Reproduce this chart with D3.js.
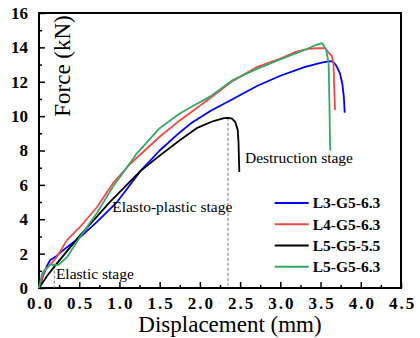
<!DOCTYPE html>
<html>
<head>
<meta charset="utf-8">
<script src="https://cdn.jsdelivr.net/npm/d3@7"></script>
<style>
  body { margin: 0; background: #fff; }
  svg { display: block; }
  svg text { font-family: "Liberation Serif", "Times New Roman", serif; }
</style>
</head>
<body>
<div id="chart"></div>
<script>
// series: [displacement (mm), force (kN)]
const seriesNames = ['L3-G5-6.3', 'L4-G5-6.3', 'L5-G5-5.5', 'L5-G5-6.3'];
const seriesColors = ['#0000ff', '#f24848', '#000000', '#35a866'];

const l3g5_63 = [[0,0],[0.05,0.7],[0.1,1.3],[0.14,1.63],[0.2,1.8],[0.3,2.2],[0.51,2.95],[0.72,3.85],[0.97,5.0],
  [1.1,5.8],[1.26,6.8],[1.5,8.0],[1.75,9.05],[1.88,9.55],[2.13,10.3],[2.41,11.0],[2.71,11.75],[3.0,12.35],
  [3.3,12.85],[3.5,13.1],[3.58,13.17],[3.62,13.2],[3.66,13.15],[3.7,12.9],[3.74,12.5],[3.77,11.9],[3.79,11.1],[3.8,10.2]];
const l4g5_63 = [[0,0],[0.07,1.05],[0.15,1.4],[0.22,1.8],[0.35,2.8],[0.51,3.55],[0.72,4.7],[0.92,6.1],[1.13,7.2],
  [1.29,7.9],[1.5,8.8],[1.75,9.75],[1.88,10.2],[2.13,11.05],[2.41,12.05],[2.71,12.85],[3.0,13.35],
  [3.2,13.75],[3.35,13.92],[3.45,13.95],[3.56,13.95],[3.6,13.7],[3.64,13.5],[3.66,13.1],[3.67,11.7],[3.68,10.35]];
const l5g5_55 = [[0,0],[0.1,0.7],[0.2,1.3],[0.5,3.0],[0.88,5.0],[1.26,6.8],[1.5,7.7],[1.75,8.6],
  [1.96,9.3],[2.16,9.7],[2.3,9.88],[2.35,9.9],[2.4,9.85],[2.44,9.65],[2.47,9.2],[2.48,8.5],[2.49,6.75]];
const l5g5_63 = [[0,0],[0.04,0.87],[0.14,1.34],[0.24,1.34],[0.35,1.8],[0.51,2.97],[0.72,4.36],
  [0.92,5.9],[1.09,7.0],[1.22,7.85],[1.5,9.3],[1.75,10.15],[1.88,10.5],[2.13,11.15],[2.41,12.1],
  [2.71,12.75],[3.0,13.3],[3.3,13.85],[3.45,14.15],[3.52,14.25],[3.57,13.85],[3.6,13.1],[3.61,10.8],[3.62,8.0]];
const seriesData = [l3g5_63, l4g5_63, l5g5_55, l5g5_63];

const xTicks = [0, 0.5, 1.0, 1.5, 2.0, 2.5, 3.0, 3.5, 4.0, 4.5];
const yTicks = [0, 2, 4, 6, 8, 10, 12, 14, 16];

const stageLabels = ['Elastic stage', 'Elasto-plastic stage', 'Destruction stage'];
const stageLines = [[0.19, 1.3], [2.35, 9.9]];  // [x, top y] of dashed markers

const width = 420, height = 338;
const margin = { top: 13, right: 19, bottom: 50, left: 39 };
const w = width - margin.left - margin.right;
const h = height - margin.top - margin.bottom;
const serif = '"Liberation Serif", "Times New Roman", serif';

const svg = d3.select('#chart').append('svg')
  .attr('width', width)
  .attr('height', height);

const g = svg.append('g')
  .attr('transform', `translate(${margin.left},${margin.top})`);

const x = d3.scaleLinear().domain([0, 4.5]).range([0, w]);
const y = d3.scaleLinear().domain([0, 16]).range([h, 0]);

// minor ticks
const xMinor = d3.range(0.25, 4.5, 0.5);
const yMinor = d3.range(1, 16, 2);
g.append('g')
  .attr('transform', `translate(0,${h})`)
  .call(d3.axisBottom(x).tickValues(xMinor).tickSize(-3).tickFormat(''))
  .call(a => a.select('.domain').remove())
  .selectAll('line').attr('stroke-width', 1.5);
g.append('g')
  .call(d3.axisLeft(y).tickValues(yMinor).tickSize(-3).tickFormat(''))
  .call(a => a.select('.domain').remove())
  .selectAll('line').attr('stroke-width', 1.5);

// major axes
const xAxis = g.append('g')
  .attr('transform', `translate(0,${h})`)
  .call(d3.axisBottom(x).tickValues(xTicks).tickSize(-6).tickPadding(9).tickFormat(d3.format('.1f')));
xAxis.select('.domain').remove();
xAxis.selectAll('line').attr('stroke-width', 1.5);
xAxis.selectAll('text')
  .attr('font-size', 17).attr('font-weight', 'bold').attr('fill', '#000')
  .attr('font-family', serif)
  .attr('dx', 1)
  .style('letter-spacing', '2px');

const yAxis = g.append('g')
  .call(d3.axisLeft(y).tickValues(yTicks).tickSize(-6).tickPadding(11));
yAxis.select('.domain').remove();
yAxis.selectAll('line').attr('stroke-width', 1.5);
yAxis.selectAll('text')
  .attr('font-size', 17).attr('font-weight', 'bold').attr('fill', '#000')
  .attr('font-family', serif);

// frame
g.append('rect')
  .attr('width', w).attr('height', h)
  .attr('fill', 'none').attr('stroke', '#000').attr('stroke-width', 2);

// dashed stage markers
g.selectAll('line.stage')
  .data(stageLines)
  .enter().append('line')
  .attr('class', 'stage')
  .attr('x1', d => x(d[0])).attr('x2', d => x(d[0]))
  .attr('y1', d => y(d[1])).attr('y2', y(0))
  .attr('stroke', '#777').attr('stroke-width', 1)
  .attr('stroke-dasharray', '3,2');

// curves
const line = d3.line().x(d => x(d[0])).y(d => y(d[1]));
g.selectAll('path.curve')
  .data(seriesData)
  .enter().append('path')
  .attr('class', 'curve')
  .attr('d', line)
  .attr('fill', 'none')
  .attr('stroke', (d, i) => seriesColors[i])
  .attr('stroke-width', 1.8)
  .attr('stroke-linejoin', 'round');

// stage labels
const stagePos = [[0.21, 0.55], [0.91, 4.4], [2.56, 7.3]];
g.selectAll('text.stage')
  .data(stageLabels)
  .enter().append('text')
  .attr('x', (d, i) => x(stagePos[i][0]))
  .attr('y', (d, i) => y(stagePos[i][1]))
  .attr('font-size', 15.5)
  .text(d => d);

// legend
const legend = g.append('g').attr('transform', `translate(${x(2.93)},${y(4.95)})`);
seriesNames.forEach((name, i) => {
  const row = legend.append('g').attr('transform', `translate(0,${i * 21.3})`);
  row.append('line').attr('x1', 0).attr('x2', 34)
    .attr('stroke', seriesColors[i]).attr('stroke-width', 2);
  row.append('text').attr('x', 38).attr('y', 5.5)
    .attr('font-size', 15.5).attr('font-weight', 'bold')
    .text(name);
});

// axis titles
svg.append('text')
  .attr('x', 230).attr('y', 332)
  .attr('text-anchor', 'middle').attr('font-size', 23)
  .text('Displacement (mm)');
svg.append('text')
  .attr('transform', `translate(70,66) rotate(-90)`)
  .attr('text-anchor', 'middle').attr('font-size', 23)
  .text('Force (kN)');
</script>
</body>
</html>
